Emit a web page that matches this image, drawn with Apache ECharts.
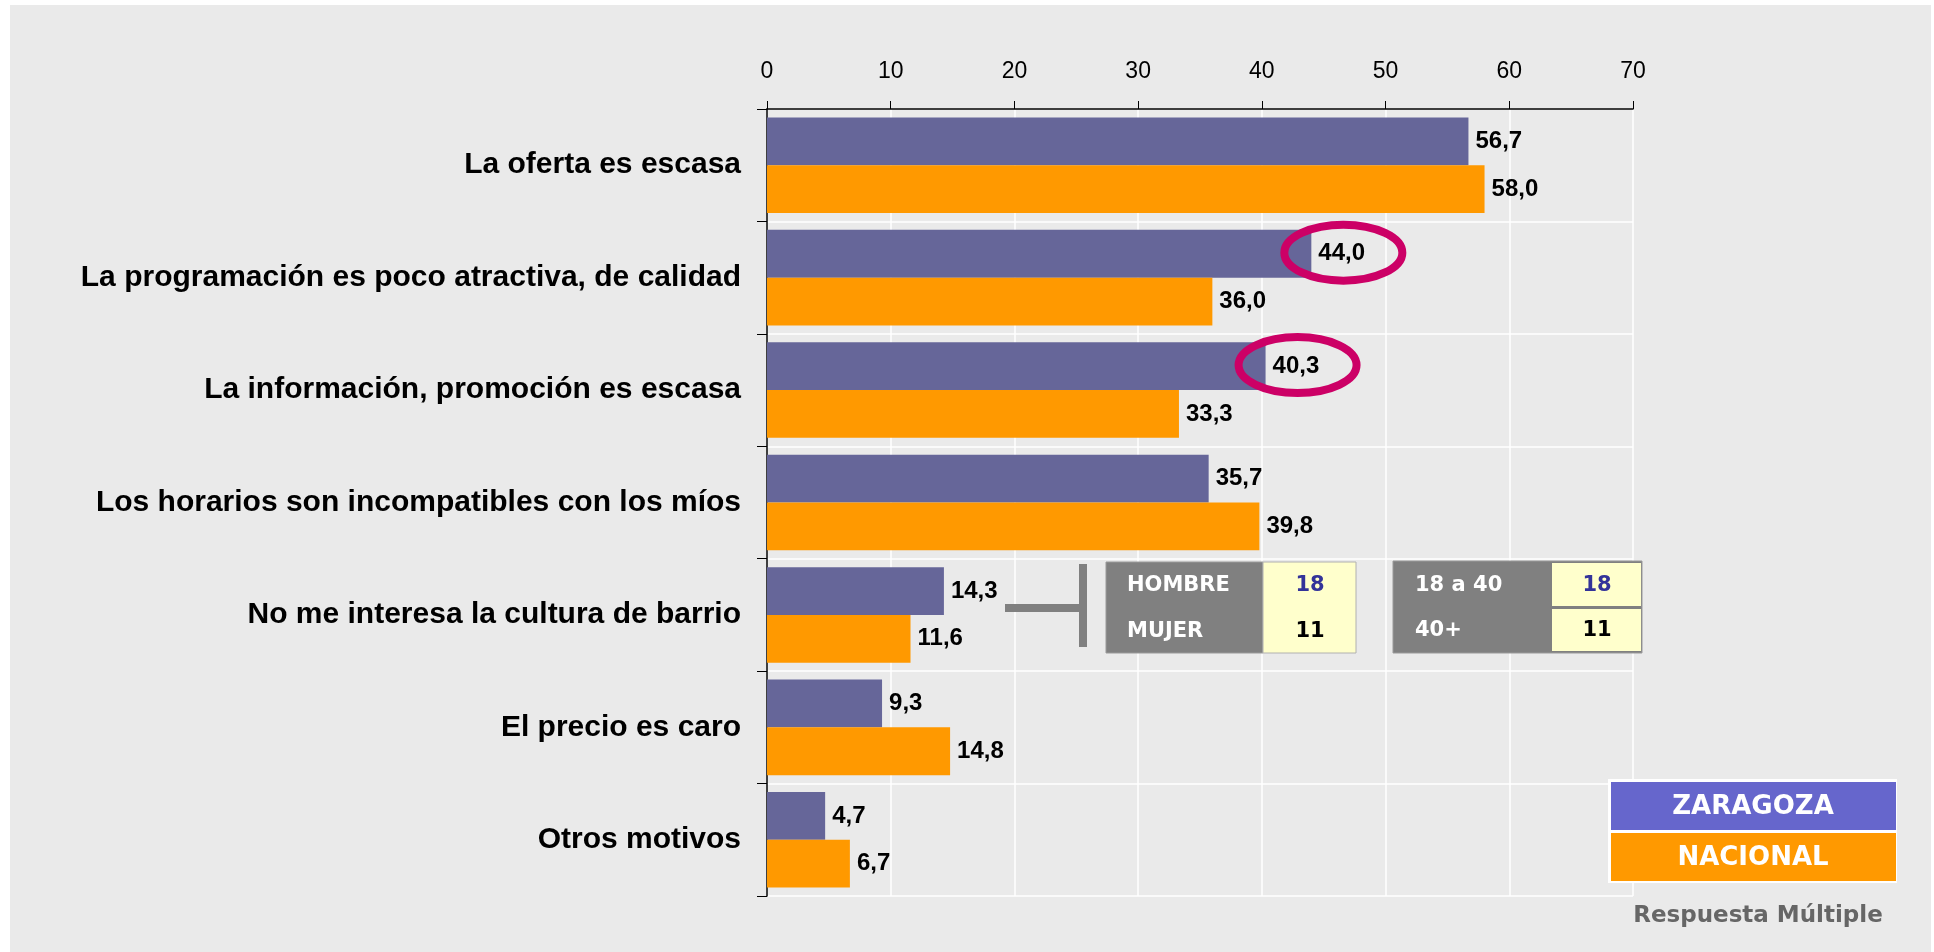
<!DOCTYPE html>
<html>
<head>
<meta charset="utf-8">
<script src="https://cdn.jsdelivr.net/npm/echarts@6/dist/echarts.min.js"></script>
<style>
  html, body { margin: 0; padding: 0; background: #ffffff; }
  #panel { position: absolute; left: 10px; top: 5px; width: 1921px; height: 947px; background: #eaeaea; }
  #chart { position: absolute; left: 0; top: 0; width: 1934px; height: 952px; }
</style>
</head>
<body>
<div id="panel"></div>
<div id="chart"></div>
<script>
  // categorías (eje vertical, de arriba a abajo)
  const categories = [
    'La oferta es escasa',
    'La programación es poco atractiva, de calidad',
    'La información, promoción es escasa',
    'Los horarios son incompatibles con los míos',
    'No me interesa la cultura de barrio',
    'El precio es caro',
    'Otros motivos'
  ];
  const seriesNames = ['ZARAGOZA', 'NACIONAL'];
  const zaragoza = [56.7, 44.0, 40.3, 35.7, 14.3, 9.3, 4.7];
  const nacional = [58.0, 36.0, 33.3, 39.8, 11.6, 14.8, 6.7];
  // eje de valores
  const axisMin = 0, axisMax = 70, axisStep = 10;
  // valores destacados con elipse (índices de zaragoza)
  const highlighted = [1, 2];
  // tablas del detalle "No me interesa la cultura de barrio"
  const sexoLabels = ['HOMBRE', 'MUJER'];
  const sexoValues = [18, 11];
  const edadLabels = ['18 a 40', '40+'];
  const edadValues = [18, 11];
  const note = 'Respuesta Múltiple';

  const fmt = v => v.toFixed(1).replace('.', ',');
  const arial = '"Liberation Sans", Arial, sans-serif';
  const verdana = '"DejaVu Sans", Verdana, sans-serif';

  const chart = echarts.init(document.getElementById('chart'));

  const option = {
    backgroundColor: 'transparent',
    animation: false,
    grid: { left: 767, right: 301, top: 109, bottom: 56 },
    xAxis: {
      type: 'value',
      position: 'top',
      min: axisMin,
      max: axisMax,
      interval: axisStep,
      axisLine: { show: true, lineStyle: { color: '#000', width: 1.5 } },
      axisTick: { show: true, length: 8, lineStyle: { color: '#000' } },
      axisLabel: { color: '#000', fontSize: 23, fontFamily: arial, margin: 26 },
      splitLine: { show: true, lineStyle: { color: '#ffffff', width: 1.5 } }
    },
    yAxis: {
      type: 'category',
      inverse: true,
      data: categories,
      axisLine: { show: true, lineStyle: { color: '#000', width: 1.5 } },
      axisTick: { show: true, length: 10, lineStyle: { color: '#000' } },
      axisLabel: { color: '#000', fontSize: 30, fontWeight: 'bold', fontFamily: arial, margin: 26 },
      splitLine: { show: true, lineStyle: { color: '#ffffff', width: 1.5 } }
    },
    series: [
      {
        name: seriesNames[0],
        type: 'bar',
        data: zaragoza,
        barGap: '0%',
        barCategoryGap: '15%',
        itemStyle: { color: '#666699' },
        label: {
          show: true, position: 'right', distance: 7,
          formatter: p => fmt(p.value),
          color: '#000', fontSize: 24, fontWeight: 'bold', fontFamily: arial
        }
      },
      {
        name: seriesNames[1],
        type: 'bar',
        data: nacional,
        barGap: '0%',
        barCategoryGap: '15%',
        itemStyle: { color: '#ff9900' },
        label: {
          show: true, position: 'right', distance: 7,
          formatter: p => fmt(p.value),
          color: '#000', fontSize: 24, fontWeight: 'bold', fontFamily: arial
        }
      }
    ]
  };
  chart.setOption(option);

  // elementos añadidos: elipses, tablas, leyenda
  function txt(text, x, y, size, color, align) {
    return {
      type: 'text', z: 20,
      style: {
        text: String(text), x: x, y: y, fill: color,
        fontSize: size, fontWeight: 'bold', fontFamily: verdana,
        align: align || 'left', verticalAlign: 'middle'
      }
    };
  }

  const els = [];
  const barHalf = 24;
  highlighted.forEach(i => {
    const p = chart.convertToPixel({ gridIndex: 0 }, [zaragoza[i], i]);
    els.push({
      type: 'ellipse', z: 20,
      shape: { cx: p[0] + 32, cy: p[1] - barHalf - 1, rx: 59, ry: 28 },
      style: { fill: 'none', stroke: '#cc0066', lineWidth: 8 }
    });
  });

  // corchete
  els.push({ type: 'rect', z: 20, shape: { x: 1005, y: 604, width: 78, height: 8 }, style: { fill: '#808080' } });
  els.push({ type: 'rect', z: 20, shape: { x: 1079, y: 564, width: 8, height: 83 }, style: { fill: '#808080' } });

  // tabla sexo
  els.push({ type: 'rect', z: 19, shape: { x: 1106, y: 562, width: 157, height: 91 }, style: { fill: '#808080', stroke: '#9a9a9a', lineWidth: 1 } });
  els.push({ type: 'rect', z: 19, shape: { x: 1263, y: 562, width: 93, height: 91 }, style: { fill: '#ffffcc', stroke: '#b0b0b0', lineWidth: 1 } });
  sexoLabels.forEach((l, k) => {
    const y = k === 0 ? 586 : 632;
    els.push(txt(l, 1127, y, 21, '#ffffff'));
    els.push(txt(sexoValues[k], 1310, y, 21, k === 0 ? '#333399' : '#000000', 'center'));
  });

  // tabla edad
  els.push({ type: 'rect', z: 19, shape: { x: 1393, y: 561, width: 249, height: 92 }, style: { fill: '#808080', stroke: '#9a9a9a', lineWidth: 1 } });
  els.push({ type: 'rect', z: 19, shape: { x: 1552, y: 563, width: 89, height: 43 }, style: { fill: '#ffffcc' } });
  els.push({ type: 'rect', z: 19, shape: { x: 1552, y: 609, width: 89, height: 42 }, style: { fill: '#ffffcc' } });
  edadLabels.forEach((l, k) => {
    const y = k === 0 ? 586 : 631;
    els.push(txt(l, 1415, y, 21, '#ffffff'));
    els.push(txt(edadValues[k], 1597, y, 21, k === 0 ? '#333399' : '#000000', 'center'));
  });

  // leyenda
  els.push({ type: 'rect', z: 19, shape: { x: 1608, y: 779, width: 289, height: 104 }, style: { fill: '#ffffff' } });
  els.push({ type: 'rect', z: 19, shape: { x: 1611, y: 782, width: 285, height: 48 }, style: { fill: '#6666cc' } });
  els.push({ type: 'rect', z: 19, shape: { x: 1611, y: 833, width: 285, height: 48 }, style: { fill: '#ff9900' } });
  els.push(txt(seriesNames[0], 1753, 807, 26, '#ffffff', 'center'));
  els.push(txt(seriesNames[1], 1753, 858, 26, '#ffffff', 'center'));
  els.push(txt(note, 1758, 916, 23, '#666666', 'center'));

  chart.setOption({ graphic: { elements: els } });
</script>
</body>
</html>
